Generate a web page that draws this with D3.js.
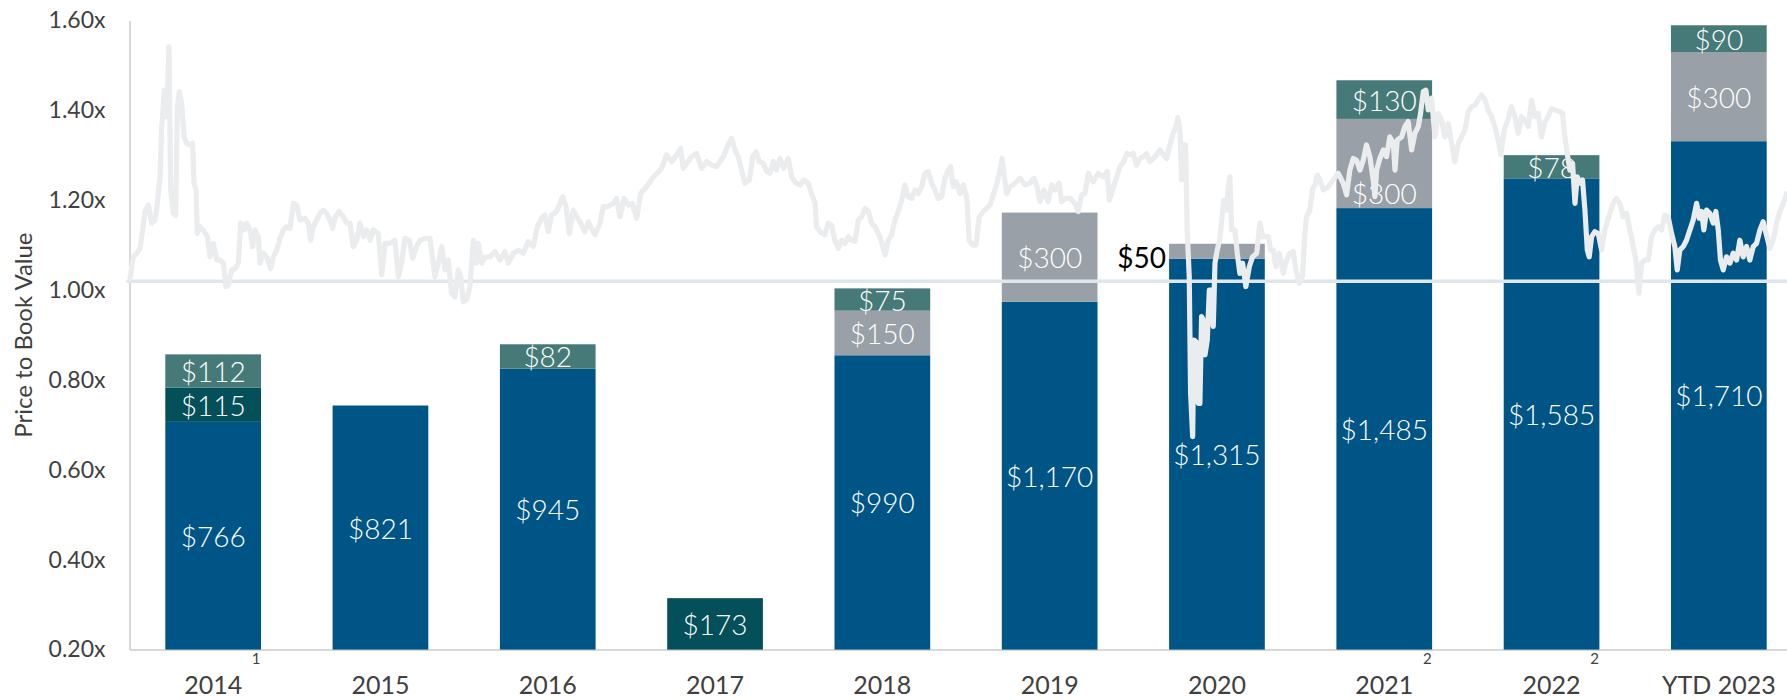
<!DOCTYPE html>
<html>
<head>
<meta charset="utf-8">
<script src="https://cdn.jsdelivr.net/npm/d3@7"></script>
<style>
  html, body { margin: 0; padding: 0; background: #ffffff; }
  svg { display: block; font-family: Lato, "Open Sans", "DejaVu Sans", sans-serif; font-weight: 400; }
</style>
</head>
<body>
<script>
// ---------------- DATA ----------------
const categories = ["2014", "2015", "2016", "2017", "2018", "2019", "2020", "2021", "2022", "YTD 2023"];
const superscripts = ["1", "", "", "", "", "", "", "2", "2", ""];

// stacked bar segments ($), bottom to top
const blueValues     = [766, 821, 945,   0, 990, 1170, 1315, 1485, 1585, 1710];
const darkTealValues = [115,   0,   0, 173,   0,    0,    0,    0,    0,    0];
const grayValues     = [  0,   0,   0,   0, 150,  300,   50,  300,    0,  300];
const tealValues     = [112,   0,  82,   0,  75,    0,    0,  130,   78,   90];

const yTickValues = [0.2, 0.4, 0.6, 0.8, 1.0, 1.2, 1.4, 1.6];
const referencePB = 1.02;

// Price to book value: [years since start of 2014, P/B multiple]
const pbStartYear = 2014;
const pbSpanYears = 9.75;
const pbSeries = [
[0.003,1.026],[0.022,1.074],[0.042,1.082],[0.061,1.093],[0.077,1.134],[0.090,1.175],[0.110,1.189],[0.129,1.149],[0.149,1.156],[0.162,1.193],[0.178,1.252],[0.187,1.356],[0.203,1.445],[0.217,1.386],[0.230,1.542],[0.240,1.223],[0.255,1.171],[0.269,1.167],[0.279,1.408],[0.290,1.442],[0.304,1.416],[0.318,1.341],[0.333,1.327],[0.353,1.323],[0.368,1.327],[0.376,1.238],[0.388,1.223],[0.395,1.126],[0.411,1.141],[0.430,1.134],[0.454,1.119],[0.469,1.074],[0.489,1.104],[0.508,1.067],[0.527,1.067],[0.547,1.060],[0.562,1.008],[0.576,1.011],[0.595,1.045],[0.615,1.048],[0.634,1.060],[0.648,1.149],[0.667,1.134],[0.683,1.149],[0.702,1.134],[0.718,1.097],[0.731,1.134],[0.751,1.119],[0.760,1.060],[0.780,1.082],[0.799,1.074],[0.823,1.048],[0.838,1.074],[0.858,1.089],[0.877,1.115],[0.896,1.134],[0.916,1.141],[0.935,1.137],[0.955,1.193],[0.974,1.189],[0.994,1.156],[1.023,1.160],[1.042,1.149],[1.056,1.111],[1.071,1.141],[1.091,1.156],[1.110,1.171],[1.130,1.178],[1.149,1.171],[1.168,1.156],[1.184,1.137],[1.198,1.163],[1.223,1.175],[1.246,1.163],[1.266,1.149],[1.285,1.149],[1.304,1.097],[1.324,1.111],[1.343,1.149],[1.363,1.119],[1.382,1.134],[1.402,1.111],[1.421,1.134],[1.450,1.126],[1.470,1.034],[1.489,1.104],[1.518,1.104],[1.547,1.111],[1.567,1.030],[1.586,1.060],[1.605,1.115],[1.631,1.111],[1.650,1.071],[1.673,1.097],[1.693,1.111],
[1.722,1.115],[1.751,1.115],[1.780,1.030],[1.800,1.060],[1.819,1.097],[1.839,1.045],[1.858,1.067],[1.877,0.993],[1.897,0.985],[1.916,1.045],[1.930,1.030],[1.945,0.974],[1.965,0.978],[1.984,1.008],[2.004,1.111],[2.019,1.060],[2.033,1.104],[2.052,1.060],[2.072,1.074],[2.101,1.074],[2.130,1.086],[2.159,1.067],[2.188,1.086],[2.208,1.060],[2.237,1.082],[2.266,1.089],[2.295,1.082],[2.324,1.108],[2.353,1.097],[2.377,1.141],[2.402,1.160],[2.421,1.167],[2.441,1.130],[2.460,1.167],[2.489,1.175],[2.509,1.193],[2.524,1.208],[2.544,1.186],[2.563,1.126],[2.586,1.178],[2.606,1.163],[2.629,1.149],[2.654,1.130],[2.674,1.152],[2.693,1.137],[2.713,1.123],[2.742,1.149],[2.761,1.186],[2.790,1.186],[2.820,1.193],[2.839,1.204],[2.858,1.163],[2.882,1.204],[2.907,1.189],[2.930,1.193],[2.956,1.160],[2.979,1.215],[3.004,1.226],[3.029,1.238],[3.053,1.252],[3.076,1.260],[3.101,1.271],[3.130,1.301],[3.160,1.286],[3.189,1.301],[3.212,1.315],[3.227,1.271],[3.247,1.282],[3.276,1.297],[3.305,1.304],[3.334,1.271],[3.363,1.286],[3.393,1.278],[3.422,1.275],[3.441,1.286],
[3.461,1.297],[3.484,1.319],[3.509,1.338],[3.529,1.312],[3.548,1.297],[3.567,1.267],[3.587,1.238],[3.612,1.245],[3.632,1.297],[3.651,1.308],[3.670,1.286],[3.694,1.282],[3.713,1.264],[3.732,1.260],[3.752,1.286],[3.771,1.267],[3.791,1.293],[3.814,1.271],[3.839,1.293],[3.859,1.252],[3.884,1.238],[3.907,1.234],[3.931,1.245],[3.956,1.238],[3.975,1.215],[3.995,1.193],[4.004,1.141],[4.024,1.130],[4.053,1.123],[4.072,1.149],[4.092,1.145],[4.111,1.111],[4.131,1.093],[4.150,1.111],[4.170,1.104],[4.189,1.119],[4.208,1.111],[4.228,1.108],[4.247,1.156],[4.267,1.163],[4.286,1.182],[4.306,1.175],[4.325,1.149],[4.344,1.141],[4.364,1.126],[4.383,1.108],[4.403,1.078],[4.422,1.111],[4.441,1.123],[4.461,1.156],[4.480,1.175],[4.500,1.200],[4.519,1.234],[4.538,1.208],[4.558,1.204],[4.577,1.223],[4.597,1.215],[4.616,1.230],[4.636,1.260],[4.655,1.264],[4.675,1.238],[4.694,1.223],[4.714,1.204],[4.733,1.208],[4.752,1.249],[4.772,1.267],[4.785,1.275],[4.801,1.230],[4.820,1.241],[4.840,1.215],[4.859,1.234],[4.879,1.208],[4.894,1.111],[4.914,1.100],[4.933,1.100],[4.952,1.163],[4.976,1.175],[4.995,1.182],[5.015,1.189],[5.034,1.212],[5.053,1.234],[5.073,1.267],[5.085,1.293],[5.096,1.260],[5.112,1.215],[5.131,1.230],[5.150,1.234],[5.169,1.241],[5.189,1.249],
[5.219,1.234],[5.248,1.238],[5.271,1.249],[5.290,1.230],[5.306,1.197],[5.329,1.223],[5.354,1.197],[5.374,1.234],[5.393,1.223],[5.417,1.238],[5.432,1.197],[5.452,1.204],[5.481,1.204],[5.510,1.193],[5.529,1.175],[5.549,1.212],[5.568,1.215],[5.588,1.260],[5.617,1.241],[5.646,1.260],[5.675,1.252],[5.698,1.264],[5.710,1.200],[5.729,1.223],[5.753,1.252],[5.772,1.275],[5.795,1.286],[5.811,1.304],[5.830,1.301],[5.850,1.304],[5.869,1.278],[5.888,1.293],[5.908,1.297],[5.927,1.304],[5.946,1.286],[5.966,1.293],[5.985,1.301],[6.005,1.312],[6.025,1.301],[6.044,1.293],[6.063,1.323],[6.083,1.349],[6.098,1.364],[6.110,1.384],[6.122,1.356],[6.131,1.245],[6.145,1.323],[6.155,1.323],[6.164,1.134],[6.176,1.030],[6.184,0.770],[6.196,0.674],[6.203,0.889],[6.215,0.885],[6.229,0.748],[6.238,0.748],[6.248,0.941],[6.258,0.933],[6.268,0.856],[6.281,0.889],[6.293,1.000],[6.306,1.000],[6.316,0.919],[6.326,1.060],[6.339,1.089],[6.355,1.115],[6.365,1.156],[6.378,1.200],[6.394,1.178],[6.403,1.230],[6.413,1.252],[6.423,1.134],[6.442,1.134],[6.456,1.082],[6.471,1.037],[6.487,1.060],[6.506,1.008],[6.526,1.052],[6.545,1.074],[6.569,1.082],[6.588,1.149],[6.604,1.119],[6.617,1.119],[6.637,1.119],[6.650,1.089],[6.666,1.089],[6.681,1.052],[6.701,1.082],[6.724,1.037],[6.743,1.067],[6.763,1.082],[6.782,1.086],[6.798,1.045],[6.817,1.015],[6.836,1.030],[6.850,1.126],[6.860,1.163],[6.879,1.178],[6.895,1.226],[6.909,1.234],[6.922,1.256],[6.938,1.245],
[6.957,1.223],[6.986,1.230],[7.015,1.245],[7.044,1.260],[7.073,1.238],[7.093,1.212],[7.112,1.267],[7.132,1.293],[7.151,1.289],[7.171,1.267],[7.190,1.289],[7.209,1.323],[7.229,1.297],[7.248,1.245],[7.258,1.208],[7.268,1.267],[7.287,1.293],[7.307,1.312],[7.326,1.297],[7.345,1.341],[7.365,1.327],[7.375,1.267],[7.388,1.334],[7.414,1.341],[7.433,1.364],[7.452,1.375],[7.472,1.312],[7.491,1.349],[7.511,1.364],[7.524,1.393],[7.540,1.442],[7.555,1.445],[7.569,1.401],[7.588,1.427],[7.608,1.341],[7.627,1.393],[7.647,1.378],[7.666,1.341],[7.686,1.371],[7.705,1.327],[7.724,1.286],[7.744,1.327],[7.763,1.341],[7.783,1.356],[7.802,1.397],[7.821,1.408],[7.841,1.412],[7.860,1.423],[7.879,1.434],[7.899,1.423],[7.918,1.401],[7.938,1.386],[7.957,1.364],[7.977,1.334],[7.992,1.301],[8.012,1.356],[8.035,1.382],[8.054,1.408],[8.074,1.386],[8.093,1.349],[8.113,1.386],[8.132,1.378],[8.152,1.364],[8.171,1.423],[8.191,1.386],[8.210,1.393],[8.229,1.341],[8.249,1.375],[8.268,1.386],[8.288,1.404],[8.307,1.401],[8.336,1.397],
[8.352,1.393],[8.365,1.341],[8.379,1.304],[8.394,1.267],[8.410,1.282],[8.424,1.193],[8.437,1.252],[8.453,1.238],[8.468,1.245],[8.482,1.178],[8.496,1.089],[8.507,1.074],[8.521,1.119],[8.540,1.130],[8.560,1.126],[8.579,1.089],[8.598,1.134],[8.624,1.167],[8.647,1.193],[8.666,1.204],[8.686,1.193],[8.705,1.163],[8.725,1.171],[8.744,1.134],[8.760,1.104],[8.779,1.067],[8.797,0.993],[8.812,1.060],[8.832,1.067],[8.851,1.067],[8.870,1.119],[8.890,1.134],[8.909,1.141],[8.929,1.134],[8.948,1.167],[8.967,1.163],[8.987,1.126],[9.006,1.097],[9.020,1.045],[9.035,1.089],[9.055,1.097],[9.074,1.111],[9.094,1.134],[9.113,1.156],[9.133,1.193],[9.148,1.160],[9.162,1.175],[9.175,1.134],[9.191,1.178],[9.210,1.171],[9.230,1.149],[9.245,1.175],[9.259,1.134],[9.272,1.067],[9.288,1.045],[9.307,1.074],[9.327,1.060],[9.346,1.082],[9.366,1.067],[9.385,1.111],[9.404,1.074],[9.424,1.097],[9.443,1.067],[9.463,1.097],[9.482,1.104],[9.502,1.134],[9.521,1.152],[9.540,1.123],[9.560,1.093],[9.579,1.111],[9.599,1.149],[9.618,1.175],[9.638,1.193],[9.659,1.215]
];

// ---------------- CHART ----------------
(function () {
const W = 1787, H = 700;
const plotLeft = 129.5, plotRight = 1802.5, plotTop = 20.5, plotBottom = 649.6;

const seriesKeys = ["blue", "darkTeal", "gray", "teal"];
const seriesColor = { blue: "#005587", darkTeal: "#034f5a", gray: "#9aa0a7", teal: "#467a79" };
const seriesArrays = { blue: blueValues, darkTeal: darkTealValues, gray: grayValues, teal: tealValues };

const rows = categories.map((c, i) => {
  const r = { category: c };
  seriesKeys.forEach(k => r[k] = seriesArrays[k][i]);
  return r;
});

const svg = d3.select("body").append("svg")
  .attr("width", W).attr("height", H)
  .style("overflow", "hidden");

const x = d3.scaleBand().domain(categories).range([plotLeft, plotRight])
  .paddingInner(0.428).paddingOuter(0.214);
const yPB = d3.scaleLinear().domain([0.2, 1.6]).range([plotBottom, plotTop]);
const yAmt = d3.scaleLinear().domain([0, 2116]).range([plotBottom, plotTop]);
const xTime = d3.scaleLinear().domain([pbStartYear, pbStartYear + pbSpanYears]).range([plotLeft, plotRight]);

// Y axis (P/B)
const yAxis = svg.append("g")
  .attr("transform", `translate(${plotLeft},0)`)
  .call(d3.axisLeft(yPB).tickValues(yTickValues).tickSize(0).tickSizeOuter(0).tickPadding(24)
    .tickFormat(d => d3.format(".2f")(d) + "x"));
yAxis.select(".domain").attr("stroke", "#d9d9d9").attr("stroke-width", 2);
yAxis.selectAll("text").attr("fill", "#404040").style("font-size", "23px");

// X axis
const xAxis = svg.append("g")
  .attr("transform", `translate(0,${plotBottom})`)
  .call(d3.axisBottom(x).tickSize(0).tickSizeOuter(0).tickPadding(27));
xAxis.select(".domain").attr("stroke", "#d9d9d9").attr("stroke-width", 2);
xAxis.selectAll("text").attr("fill", "#404040").style("font-size", "25px");
svg.selectAll("g").attr("font-family", null);

// superscripts
xAxis.selectAll("g.tick").each(function (d) {
  const sup = superscripts[categories.indexOf(d)];
  if (!sup) return;
  const t = d3.select(this).select("text");
  const w = t.node().getComputedTextLength();
  d3.select(this).append("text")
    .attr("x", w / 2 + 14).attr("y", 14)
    .attr("text-anchor", "middle")
    .attr("fill", "#404040")
    .style("font-size", "15px")
    .text(sup);
});

// Y title
svg.append("text")
  .attr("transform", `translate(22,${(plotTop + plotBottom) / 2}) rotate(-90)`)
  .attr("text-anchor", "middle")
  .attr("dominant-baseline", "central")
  .attr("fill", "#404040")
  .style("font-size", "24px")
  .text("Price to Book Value");

// Bars
const stacked = d3.stack().keys(seriesKeys)(rows);
const gBars = svg.append("g");
stacked.forEach(layer => {
  gBars.selectAll(null)
    .data(layer.filter(d => d[1] - d[0] > 0))
    .join("rect")
    .attr("x", d => x(d.data.category))
    .attr("width", x.bandwidth())
    .attr("y", d => yAmt(d[1]))
    .attr("height", d => yAmt(d[0]) - yAmt(d[1]))
    .attr("fill", seriesColor[layer.key]);
});

// reference line
svg.append("line")
  .attr("x1", plotLeft - 3).attr("x2", plotRight)
  .attr("y1", yPB(referencePB)).attr("y2", yPB(referencePB))
  .attr("stroke", "#dfe7ed").attr("stroke-width", 3.5);

// Labels
const fmt = v => "$" + d3.format(",")(v);
const gLabels = svg.append("g").style("font-size", "28px").style("font-weight", "300");
stacked.forEach(layer => {
  layer.filter(d => d[1] - d[0] > 0).forEach(d => {
    const cat = d.data.category;
    const val = d[1] - d[0];
    const segTop = yAmt(d[1]), segBot = yAmt(d[0]);
    let lx = x(cat) + x.bandwidth() / 2, ly = (segTop + segBot) / 2;
    let anchor = "middle", fill = "#ffffff";
    const tooThin = (segBot - segTop) < 20;
    if (tooThin && layer.key === "gray") {
      lx = x(cat) - 3; ly = segBot - 2; anchor = "end"; fill = "#000000";
    } else if (cat === "2021" && layer.key === "gray") {
      ly = segBot - 15;
    }
    gLabels.append("text")
      .attr("x", lx).attr("y", ly)
      .attr("text-anchor", anchor)
      .attr("dominant-baseline", "central")
      .attr("fill", fill)
      .style("font-weight", fill === "#000000" ? "400" : null)
      .text(fmt(val));
  });
});

// P/B line
const line = d3.line()
  .x(d => xTime(pbStartYear + d[0]))
  .y(d => yPB(d[1]));
svg.append("path")
  .datum(pbSeries)
  .attr("d", line)
  .attr("fill", "none")
  .attr("stroke", "#eaecee")
  .attr("stroke-width", 5.2)
  .attr("stroke-linejoin", "round")
  .attr("stroke-linecap", "round");
})();
</script>
</body>
</html>
